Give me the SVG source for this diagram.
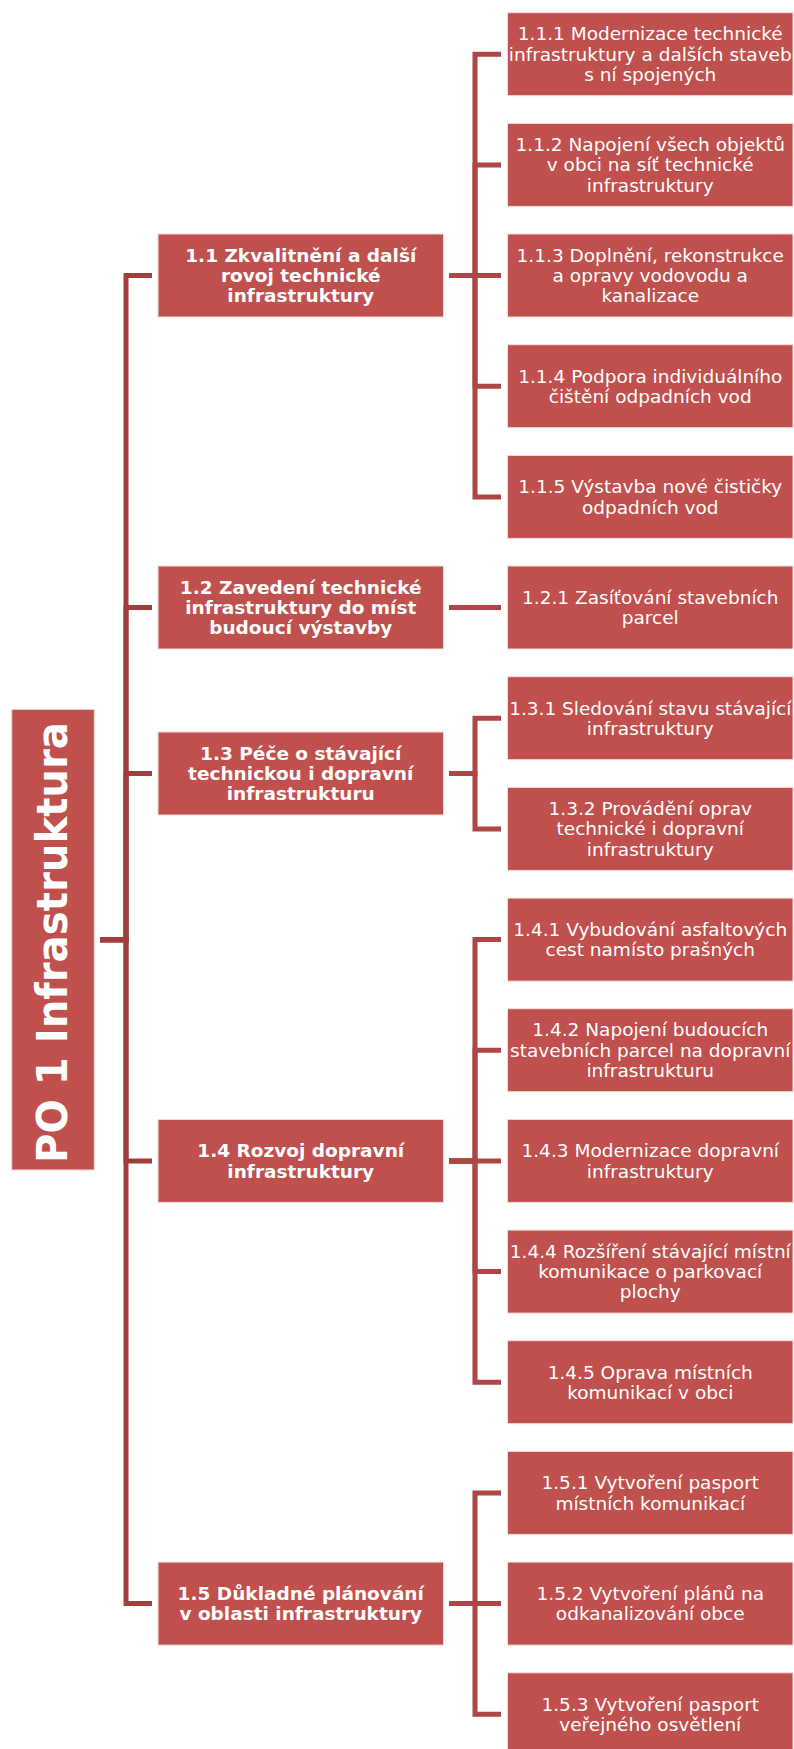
<svg xmlns="http://www.w3.org/2000/svg" width="794" height="1749" viewBox="0 0 794 1749">
<style>
.box{fill:#C0504D;stroke:#F2DCDB;stroke-width:1}
.t{font-family:"DejaVu Sans","Liberation Sans",sans-serif;font-size:18.5px;fill:#FFFFFF;text-anchor:middle}
.b{font-weight:bold}
.root{font-family:"DejaVu Sans","Liberation Sans",sans-serif;font-size:43px;font-weight:bold;fill:#FFFFFF;text-anchor:middle}
.c1{fill:none;stroke:#9F3E3C;stroke-width:5;stroke-linejoin:miter}
.c2{fill:none;stroke:#AD4644;stroke-width:5;stroke-linejoin:miter}
</style>
<rect width="794" height="1749" fill="#FFFFFF"/>
<g id="connectors">
<path class="c1" d="M100,939.7 H126 V275.5 H152"/>
<path class="c1" d="M100,939.7 H126 V607.5 H152"/>
<path class="c1" d="M100,939.7 H126 V773.5 H152"/>
<path class="c1" d="M100,939.7 H126 V1160.9 H152"/>
<path class="c1" d="M100,939.7 H126 V1603.6 H152"/>
<path class="c2" d="M449,275.5 H475 V54.2 H501"/>
<path class="c2" d="M449,275.5 H475 V164.9 H501"/>
<path class="c2" d="M449,275.5 H501"/>
<path class="c2" d="M449,275.5 H475 V386.2 H501"/>
<path class="c2" d="M449,275.5 H475 V496.9 H501"/>
<path class="c2" d="M449,607.5 H501"/>
<path class="c2" d="M449,773.5 H475 V718.2 H501"/>
<path class="c2" d="M449,773.5 H475 V828.9 H501"/>
<path class="c2" d="M449,1160.9 H475 V939.6 H501"/>
<path class="c2" d="M449,1160.9 H475 V1050.2 H501"/>
<path class="c2" d="M449,1160.9 H501"/>
<path class="c2" d="M449,1160.9 H475 V1271.6 H501"/>
<path class="c2" d="M449,1160.9 H475 V1382.2 H501"/>
<path class="c2" d="M449,1603.6 H475 V1492.9 H501"/>
<path class="c2" d="M449,1603.6 H501"/>
<path class="c2" d="M449,1603.6 H475 V1714.3 H501"/>
</g>
<g id="root">
<rect class="box" x="11.7" y="709.3" width="82.6" height="460.7"/>
<text class="root" transform="translate(67,942.5) rotate(-90)" x="0" y="0" textLength="441" lengthAdjust="spacingAndGlyphs">PO 1 Infrastruktura</text>
</g>
<g id="n1_1">
<rect class="box" x="158" y="234" width="285.5" height="83"/>
<text class="t b" x="300.75"><tspan x="300.75" y="261.7">1.1 Zkvalitnění a další</tspan><tspan x="300.75" y="282">rovoj technické</tspan><tspan x="300.75" y="302.3">infrastruktury</tspan></text>
</g>
<g id="n1_2">
<rect class="box" x="158" y="566" width="285.5" height="83"/>
<text class="t b" x="300.75"><tspan x="300.75" y="593.7">1.2 Zavedení technické</tspan><tspan x="300.75" y="614">infrastruktury do míst</tspan><tspan x="300.75" y="634.3">budoucí výstavby</tspan></text>
</g>
<g id="n1_3">
<rect class="box" x="158" y="732" width="285.5" height="83"/>
<text class="t b" x="300.75"><tspan x="300.75" y="759.7">1.3 Péče o stávající</tspan><tspan x="300.75" y="780">technickou i dopravní</tspan><tspan x="300.75" y="800.3">infrastrukturu</tspan></text>
</g>
<g id="n1_4">
<rect class="box" x="158" y="1119.4" width="285.5" height="83"/>
<text class="t b" x="300.75"><tspan x="300.75" y="1157.2">1.4 Rozvoj dopravní</tspan><tspan x="300.75" y="1177.5">infrastruktury</tspan></text>
</g>
<g id="n1_5">
<rect class="box" x="158" y="1562.1" width="285.5" height="83"/>
<text class="t b" x="300.75"><tspan x="300.75" y="1599.9">1.5 Důkladné plánování</tspan><tspan x="300.75" y="1620.2">v oblasti infrastruktury</tspan></text>
</g>
<g id="n1_1_1">
<rect class="box" x="507.5" y="12.7" width="285.5" height="83"/>
<text class="t" x="650.25"><tspan x="650.25" y="40.4">1.1.1 Modernizace technické</tspan><tspan x="650.25" y="60.7">infrastruktury a dalších staveb</tspan><tspan x="650.25" y="81">s ní spojených</tspan></text>
</g>
<g id="n1_1_2">
<rect class="box" x="507.5" y="123.4" width="285.5" height="83"/>
<text class="t" x="650.25"><tspan x="650.25" y="151.1">1.1.2 Napojení všech objektů</tspan><tspan x="650.25" y="171.4">v obci na síť technické</tspan><tspan x="650.25" y="191.7">infrastruktury</tspan></text>
</g>
<g id="n1_1_3">
<rect class="box" x="507.5" y="234" width="285.5" height="83"/>
<text class="t" x="650.25"><tspan x="650.25" y="261.7">1.1.3 Doplnění, rekonstrukce</tspan><tspan x="650.25" y="282">a opravy vodovodu a</tspan><tspan x="650.25" y="302.3">kanalizace</tspan></text>
</g>
<g id="n1_1_4">
<rect class="box" x="507.5" y="344.7" width="285.5" height="83"/>
<text class="t" x="650.25"><tspan x="650.25" y="382.5">1.1.4 Podpora individuálního</tspan><tspan x="650.25" y="402.8">čištění odpadních vod</tspan></text>
</g>
<g id="n1_1_5">
<rect class="box" x="507.5" y="455.4" width="285.5" height="83"/>
<text class="t" x="650.25"><tspan x="650.25" y="493.2">1.1.5 Výstavba nové čističky</tspan><tspan x="650.25" y="513.5">odpadních vod</tspan></text>
</g>
<g id="n1_2_1">
<rect class="box" x="507.5" y="566" width="285.5" height="83"/>
<text class="t" x="650.25"><tspan x="650.25" y="603.8">1.2.1 Zasíťování stavebních</tspan><tspan x="650.25" y="624.1">parcel</tspan></text>
</g>
<g id="n1_3_1">
<rect class="box" x="507.5" y="676.7" width="285.5" height="83"/>
<text class="t" x="650.25"><tspan x="650.25" y="714.5">1.3.1 Sledování stavu stávající</tspan><tspan x="650.25" y="734.8">infrastruktury</tspan></text>
</g>
<g id="n1_3_2">
<rect class="box" x="507.5" y="787.4" width="285.5" height="83"/>
<text class="t" x="650.25"><tspan x="650.25" y="815.1">1.3.2 Provádění oprav</tspan><tspan x="650.25" y="835.4">technické i dopravní</tspan><tspan x="650.25" y="855.7">infrastruktury</tspan></text>
</g>
<g id="n1_4_1">
<rect class="box" x="507.5" y="898.1" width="285.5" height="83"/>
<text class="t" x="650.25"><tspan x="650.25" y="935.9">1.4.1 Vybudování asfaltových</tspan><tspan x="650.25" y="956.2">cest namísto prašných</tspan></text>
</g>
<g id="n1_4_2">
<rect class="box" x="507.5" y="1008.7" width="285.5" height="83"/>
<text class="t" x="650.25"><tspan x="650.25" y="1036.4">1.4.2 Napojení budoucích</tspan><tspan x="650.25" y="1056.7">stavebních parcel na dopravní</tspan><tspan x="650.25" y="1077">infrastrukturu</tspan></text>
</g>
<g id="n1_4_3">
<rect class="box" x="507.5" y="1119.4" width="285.5" height="83"/>
<text class="t" x="650.25"><tspan x="650.25" y="1157.2">1.4.3 Modernizace dopravní</tspan><tspan x="650.25" y="1177.5">infrastruktury</tspan></text>
</g>
<g id="n1_4_4">
<rect class="box" x="507.5" y="1230.1" width="285.5" height="83"/>
<text class="t" x="650.25"><tspan x="650.25" y="1257.8">1.4.4 Rozšíření stávající místní</tspan><tspan x="650.25" y="1278.1">komunikace o parkovací</tspan><tspan x="650.25" y="1298.4">plochy</tspan></text>
</g>
<g id="n1_4_5">
<rect class="box" x="507.5" y="1340.7" width="285.5" height="83"/>
<text class="t" x="650.25"><tspan x="650.25" y="1378.5">1.4.5 Oprava místních</tspan><tspan x="650.25" y="1398.8">komunikací v obci</tspan></text>
</g>
<g id="n1_5_1">
<rect class="box" x="507.5" y="1451.4" width="285.5" height="83"/>
<text class="t" x="650.25"><tspan x="650.25" y="1489.2">1.5.1 Vytvoření pasport</tspan><tspan x="650.25" y="1509.5">místních komunikací</tspan></text>
</g>
<g id="n1_5_2">
<rect class="box" x="507.5" y="1562.1" width="285.5" height="83"/>
<text class="t" x="650.25"><tspan x="650.25" y="1599.9">1.5.2 Vytvoření plánů na</tspan><tspan x="650.25" y="1620.2">odkanalizování obce</tspan></text>
</g>
<g id="n1_5_3">
<rect class="box" x="507.5" y="1672.8" width="285.5" height="83"/>
<text class="t" x="650.25"><tspan x="650.25" y="1710.6">1.5.3 Vytvoření pasport</tspan><tspan x="650.25" y="1730.9">veřejného osvětlení</tspan></text>
</g>
</svg>
